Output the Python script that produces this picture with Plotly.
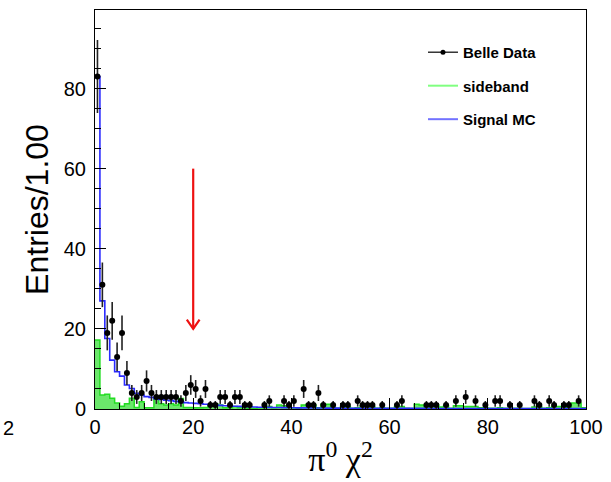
import numpy as np
import plotly.graph_objects as go

# ---------------- data (100 bins of width 1.00, range 0..100) ----------------
bin_lo = 0
bin_hi = 100
n_bins = 100

belle_counts = [83, 31, 19, 22, 13, 19, 9, 4, 3, 4,
                7, 4, 3, 3, 3, 3, 3, 2, 4, 6,
                5, 2, 5, 1, 1, 3, 3, 1, 3, 3,
                1, 1, 0, 0, 1, 2, 0, 0, 2, 1,
                2, 0, 5, 1, 1, 4, 1, 0, 1, 0,
                1, 1, 0, 2, 1, 1, 1, 0, 1, 0,
                0, 1, 2, 0, 0, 0, 0, 1, 1, 1,
                0, 1, 0, 2, 0, 3, 0, 2, 0, 1,
                0, 2, 2, 0, 1, 0, 1, 0, 0, 2,
                1, 0, 2, 1, 0, 1, 1, 0, 2, 0]

sideband = [17.2, 3.5, 3.7, 2.7, 1.5, 0.7, 1.3, 2.7, 0.4, 1.8,
            0.3, 0.3, 2.5, 1.3, 1.0, 1.3, 1.0, 2.6, 0.4, 0.4,
            0.3, 0.3, 0.4, 1.0, 1.3, 1.0, 0.3, 0.3, 0.6, 0.3,
            0.3, 0.2, 0.2, 0.3, 0.3, 0.6, 0.3, 1.0, 0.8, 0.3,
            0.3, 0.2, 1.0, 1.2, 1.0, 0.3, 1.2, 1.2, 0.4, 0.2,
            0.6, 0.6, 0.2, 0.3, 0.8, 0.8, 0.5, 0.2, 0.3, 0.2,
            0.2, 0.6, 0.6, 0.2, 0.1, 1.2, 1.0, 0.5, 1.0, 1.0,
            0.5, 0.8, 0.2, 0.8, 0.8, 0.6, 0.6, 0.6, 0.3, 0.3,
            0.2, 0.2, 0.3, 0.2, 0.2, 0.2, 0.2, 0.1, 0.1, 0.5,
            0.5, 0.2, 0.3, 0.6, 0.6, 0.6, 0.3, 1.5, 1.5, 0.3]

signal_mc = [83.0, 27.0, 17.6, 12.2, 9.3, 8.2, 6.0, 5.1, 3.9, 3.5,
             3.1, 2.9, 2.6, 2.4, 2.2, 2.1, 1.9, 1.8, 1.6, 1.5,
             1.4, 1.3, 1.2, 1.1, 1.0, 0.9, 0.8, 0.75, 0.7, 0.65,
             0.6, 0.55, 0.5, 0.45, 0.42, 0.4, 0.38, 0.36, 0.34, 0.32,
             0.3, 0.29, 0.28, 0.27, 0.26, 0.25, 0.24, 0.23, 0.22, 0.21,
             0.2, 0.2, 0.2, 0.19, 0.19, 0.18, 0.18, 0.18, 0.17, 0.17,
             0.17, 0.16, 0.16, 0.16, 0.15, 0.15, 0.15, 0.15, 0.14, 0.14,
             0.14, 0.14, 0.13, 0.13, 0.13, 0.13, 0.12, 0.12, 0.12, 0.12,
             0.12, 0.11, 0.11, 0.11, 0.11, 0.11, 0.1, 0.1, 0.1, 0.1,
             0.1, 0.1, 0.1, 0.1, 0.1, 0.1, 0.1, 0.1, 0.1, 0.1]

x_ticks = [0, 20, 40, 60, 80, 100]
y_ticks = [0, 20, 40, 60, 80]

cut_value = 20        # red arrow: chi2 cut
arrow_top = 60
arrow_tip = 20

# ---------------- derived ----------------
edges = np.linspace(bin_lo, bin_hi, n_bins + 1)
centers = 0.5 * (edges[:-1] + edges[1:])
counts = np.array(belle_counts, dtype=float)
mask = counts > 0

def step_y(vals):
    return list(vals) + [vals[-1]]

fig = go.Figure()

# sideband (filled histogram)
fig.add_trace(go.Scatter(
    x=edges, y=step_y(sideband), mode="lines", line_shape="hv",
    line=dict(color="#22dd22", width=1.5),
    fill="tozeroy", fillcolor="rgba(70,225,70,0.8)",
    showlegend=False, hoverinfo="skip"))

# signal MC (line histogram)
fig.add_trace(go.Scatter(
    x=edges, y=step_y(signal_mc), mode="lines", line_shape="hv",
    line=dict(color="#2a2aff", width=1.6),
    showlegend=False, hoverinfo="skip"))

# Belle data points
fig.add_trace(go.Scatter(
    x=centers[mask], y=counts[mask], mode="markers",
    marker=dict(color="black", size=6, symbol="circle"),
    error_y=dict(type="data", array=np.sqrt(counts[mask]), width=0,
                 color="#222222", thickness=1.6),
    showlegend=False))

# legend entries
legend_font = dict(family="Liberation Sans", size=15, color="black")
fig.add_trace(go.Scatter(x=[None], y=[None], mode="lines+markers",
                         name="<b>Belle Data</b>", legendgroup="a",
                         line=dict(color="black", width=1.2),
                         marker=dict(color="black", size=5)))
fig.add_trace(go.Scatter(x=[None], y=[None], mode="lines",
                         name="<b>sideband</b>", legendgroup="b",
                         line=dict(color="#80ff80", width=2)))
fig.add_trace(go.Scatter(x=[None], y=[None], mode="lines",
                         name="<b>Signal MC</b>", legendgroup="c",
                         line=dict(color="#7272ff", width=2)))

# red arrow
fig.add_shape(type="line", x0=cut_value, x1=cut_value, y0=arrow_top, y1=arrow_tip,
              xref="x", yref="y", line=dict(color="#ee1111", width=2.2))
fig.add_shape(type="path",
              path=f"M {cut_value-1.3},{arrow_tip+2.3} L {cut_value},{arrow_tip} L {cut_value+1.3},{arrow_tip+2.3}",
              xref="x", yref="y", line=dict(color="#ee1111", width=2.2))

tick_font = dict(family="Liberation Sans", size=20, color="black")

fig.update_layout(
    width=611, height=482,
    margin=dict(l=95, r=25, t=10, b=73, autoexpand=False),
    paper_bgcolor="white", plot_bgcolor="white",
    legend=dict(x=0.668, y=0.935, xanchor="left", yanchor="top",
                font=legend_font, bgcolor="rgba(0,0,0,0)",
                tracegroupgap=11, itemwidth=30),
    xaxis=dict(range=[bin_lo, bin_hi], tickvals=x_ticks, ticks="inside",
               ticklen=11, tickwidth=1, tickcolor="black",
               minor=dict(ticks="inside", dtick=5, ticklen=6, tickcolor="black"),
               showline=True, linecolor="black", linewidth=1, mirror=True,
               showgrid=False, zeroline=False, tickfont=tick_font,
               title=dict(text="π<sup>0</sup> χ<sup>2</sup>",
                          font=dict(family="Liberation Serif", size=34, color="black"),
                          standoff=10)),
    yaxis=dict(range=[0, 99.6], tickvals=y_ticks, ticks="inside",
               ticklen=11, tickwidth=1, tickcolor="black",
               minor=dict(ticks="inside", dtick=5, ticklen=6, tickcolor="black"),
               showline=True, linecolor="black", linewidth=1, mirror=True,
               showgrid=False, zeroline=False, tickfont=tick_font,
               ticklabelstandoff=4,
               title=dict(text="Entries/1.00",
                          font=dict(family="Liberation Sans", size=32, color="black"),
                          standoff=5)),
    annotations=[dict(text="2", xref="paper", yref="paper",
                      x=(1 - 95) / 491, y=(409 - 428) / 399,
                      xanchor="left", yanchor="middle", showarrow=False,
                      font=dict(family="Liberation Sans", size=20, color="black"))],
)

fig.write_html("out.html")
